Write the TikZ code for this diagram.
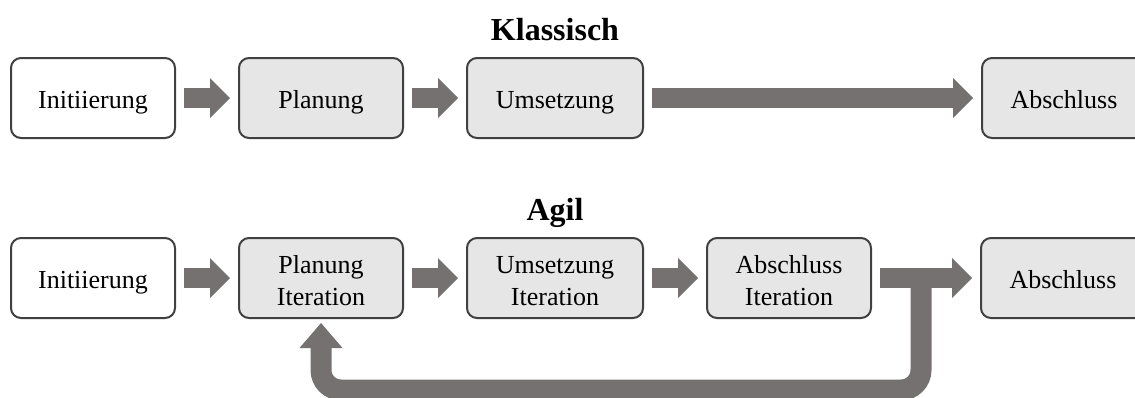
\documentclass[tikz,border=0pt]{standalone}
\usepackage{fontspec}
\setmainfont{Liberation Serif}
\usetikzlibrary{arrows.meta, positioning}

\definecolor{boxline}{HTML}{404040}
\definecolor{boxfill}{HTML}{E7E6E6}
\definecolor{arrowgray}{HTML}{767171}

\begin{document}
\begin{tikzpicture}[x=0.5pt, y=-0.5pt,
    phase/.style={draw=boxline, line width=1pt, rounded corners=5pt, fill=boxfill,
        minimum width=82pt, minimum height=40pt, inner sep=0pt, outer sep=0pt,
        align=center, text height=10pt, text depth=0pt,
        font=\fontsize{13}{16}\selectfont},
    twoline/.style={text height=27pt, text depth=0pt},
    startphase/.style={phase, fill=white},
    title/.style={anchor=base, font=\fontsize{16}{19}\selectfont\bfseries},
    blockarrow/.style={draw=arrowgray, line width=10pt,
        -{Triangle[length=10pt, width=20pt, line width=0pt]},
        shorten <=4.5pt, shorten >=4.5pt},
    looparrow/.style={draw=arrowgray, line width=10.5pt, rounded corners=10pt,
        -{Triangle[length=12.5pt, width=21.5pt, line width=0pt]},
        shorten >=2.5pt},
    node distance=32pt]
    \useasboundingbox (0,0) rectangle (1135,397);

    % Klassisch
    \node[title] (klassisch) at (555,40) {Klassisch};
    \node[startphase] (initK) at (93,98) {Initiierung};
    \node[phase, right=of initK] (planK) {Planung};
    \node[phase, right=of planK, minimum width=88pt] (umsK) {Umsetzung};
    \node[phase, right=169.5pt of umsK] (abK) {Abschluss};

    % Agil
    \node[title] (agil) at (555,220) {Agil};
    \node[startphase] (initA) at (93,278) {Initiierung};
    \node[phase, twoline, right=of initA] (planA) {Planung\\Iteration};
    \node[phase, twoline, right=of planA, minimum width=88pt] (umsA) {Umsetzung\\Iteration};
    \node[phase, twoline, right=of umsA] (abItA) {Abschluss\\Iteration};
    \node[phase, right=55pt of abItA] (abA) {Abschluss};

    % block arrows
    \foreach \a/\b in {initK/planK, planK/umsK, umsK/abK,
                       initA/planA, planA/umsA, umsA/abItA, abItA/abA}
        \draw[blockarrow] (\a) -- (\b);

    % iteration loop back to Planung
    \coordinate (loopstart) at (921,278);
    \draw[looparrow] (loopstart) -- (921,390) -| (planA.south);
\end{tikzpicture}
\end{document}
